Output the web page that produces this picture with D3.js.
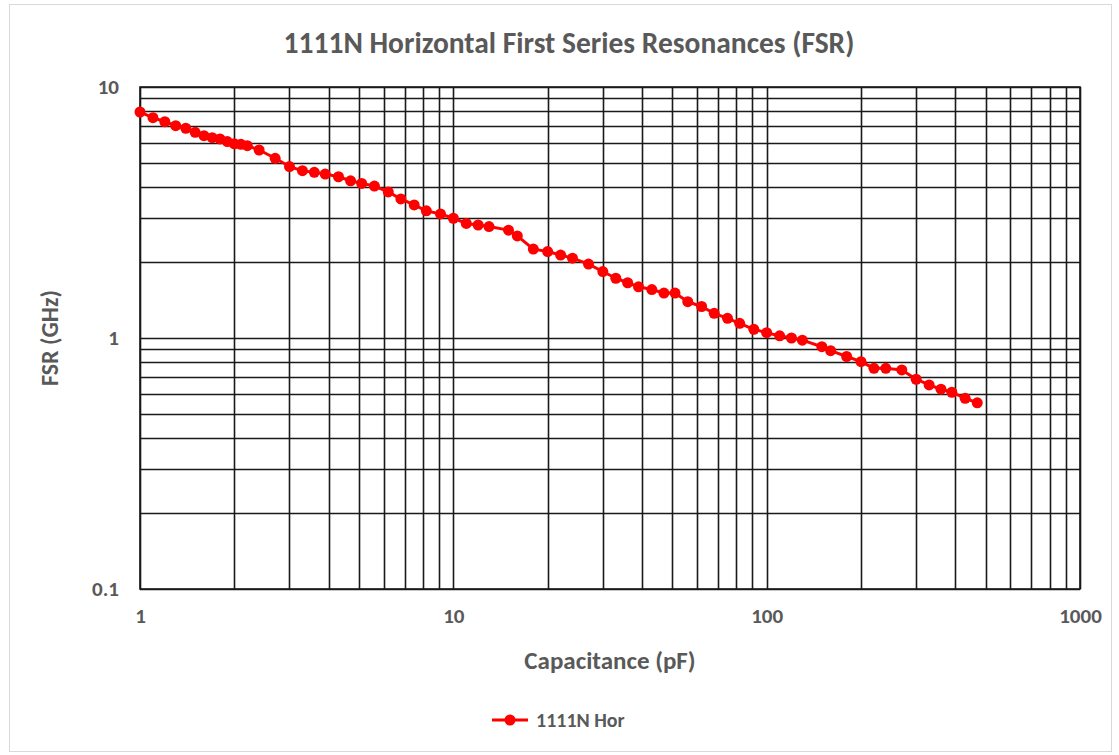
<!DOCTYPE html>
<html>
<head>
<meta charset="utf-8">
<script src="https://cdn.jsdelivr.net/npm/d3@7"></script>
<style>
  html, body { margin: 0; padding: 0; background: #fff; }
  svg { display: block; }
  text { font-family: Carlito, Calibri, "Liberation Sans Narrow", "Open Sans", sans-serif; }
</style>
</head>
<body>
<svg id="chart" width="1119" height="755"></svg>
<script>
// ---- data ----
const title = "1111N Horizontal First Series Resonances (FSR)";
const xTitle = "Capacitance (pF)";
const yTitle = "FSR (GHz)";
const seriesName = "1111N Hor";
const capacitance = [1, 1.1, 1.2, 1.3, 1.4, 1.5, 1.6, 1.7, 1.8, 1.9, 2.0, 2.1, 2.2, 2.4, 2.7, 3.0, 3.3, 3.6, 3.9, 4.3, 4.7, 5.1, 5.6, 6.2, 6.8, 7.5, 8.2, 9.1, 10, 11, 12, 13, 15, 16, 18, 20, 22, 24, 27, 30, 33, 36, 39, 43, 47, 51, 56, 62, 68, 75, 82, 91, 100, 110, 120, 130, 150, 160, 180, 200, 220, 240, 270, 300, 330, 360, 390, 430, 470];
const fsr = [7.95, 7.55, 7.27, 7.01, 6.85, 6.60, 6.40, 6.28, 6.21, 6.06, 5.94, 5.91, 5.84, 5.61, 5.20, 4.82, 4.64, 4.57, 4.50, 4.39, 4.23, 4.13, 4.03, 3.82, 3.58, 3.39, 3.21, 3.12, 3.00, 2.86, 2.82, 2.78, 2.69, 2.55, 2.26, 2.21, 2.14, 2.08, 1.97, 1.84, 1.73, 1.66, 1.60, 1.56, 1.51, 1.51, 1.395, 1.335, 1.254, 1.198, 1.144, 1.083, 1.05, 1.02, 1.00, 0.98, 0.923, 0.89, 0.844, 0.805, 0.757, 0.757, 0.746, 0.685, 0.65, 0.625, 0.608, 0.575, 0.552];
const xTickLabels = ["1", "10", "100", "1000"];
const yTickLabels = ["0.1", "1", "10"];
const xDomain = [1, 1000];
const yDomain = [0.1, 10];

// ---- layout ----
const svg = d3.select("#chart");
const plot = { left: 140, right: 1080, top: 87, bottom: 589 };
const textColor = "#595959";
const fontStack = 'Carlito, Calibri, "Liberation Sans Narrow", "Open Sans", sans-serif';

svg.append("rect").attr("x", 9.5).attr("y", 4.5).attr("width", 1102).attr("height", 747)
  .attr("fill", "#fff").attr("stroke", "#d9d9d9").attr("stroke-width", 1);

const x = d3.scaleLog().domain(xDomain).range([plot.left, plot.right]);
const y = d3.scaleLog().domain(yDomain).range([plot.bottom, plot.top]);

// minor/major gridlines
const xGrid = x.ticks();
const yGrid = y.ticks();
const g = svg.append("g");
g.selectAll("line.xg").data(xGrid).join("line")
  .attr("x1", d => Math.round(x(d)) + 0.5).attr("x2", d => Math.round(x(d)) + 0.5)
  .attr("y1", plot.top).attr("y2", plot.bottom)
  .attr("stroke", "#1a1a1a").attr("stroke-width", 1.6);
g.selectAll("line.yg").data(yGrid).join("line")
  .attr("y1", d => Math.round(y(d)) + 0.5).attr("y2", d => Math.round(y(d)) + 0.5)
  .attr("x1", plot.left).attr("x2", plot.right)
  .attr("stroke", "#1a1a1a").attr("stroke-width", 1.6);
g.append("rect").attr("x", plot.left).attr("y", plot.top)
  .attr("width", plot.right - plot.left).attr("height", plot.bottom - plot.top)
  .attr("fill", "none").attr("stroke", "#1a1a1a").attr("stroke-width", 1.6);

// axes labels via d3 axes (no domain/tick lines)
const xAxis = d3.axisBottom(x).tickValues(xTickLabels.map(Number)).tickFormat((d, i) => xTickLabels[i]).tickSize(0).tickPadding(0);
const xa = svg.append("g").attr("transform", `translate(0,${plot.bottom + 19})`).call(xAxis);
xa.select(".domain").remove();
xa.selectAll("text").attr("font-size", 21).attr("font-weight", "bold").attr("fill", textColor)
  .attr("font-family", fontStack);

const yAxis = d3.axisLeft(y).tickValues(yTickLabels.map(Number)).tickFormat((d, i) => yTickLabels[i]).tickSize(0).tickPadding(0);
const ya = svg.append("g").attr("transform", `translate(${plot.left - 21},0)`).call(yAxis);
ya.select(".domain").remove();
ya.selectAll("text").attr("font-size", 21).attr("font-weight", "bold").attr("fill", textColor)
  .attr("font-family", fontStack);

// titles
svg.append("text").attr("x", 569).attr("y", 53).attr("text-anchor", "middle")
  .attr("font-size", 29.5).attr("font-weight", "bold").attr("fill", textColor).text(title);
svg.append("text").attr("x", 610).attr("y", 669).attr("text-anchor", "middle")
  .attr("font-size", 25).attr("font-weight", "bold").attr("fill", textColor).text(xTitle);
svg.append("text").attr("transform", `translate(58,338) rotate(-90)`).attr("text-anchor", "middle")
  .attr("font-size", 24).attr("font-weight", "bold").attr("fill", textColor).text(yTitle);

// series
const data = capacitance.map((c, i) => ({ c, f: fsr[i] }));
const red = "#ff0000";
svg.append("path").datum(data)
  .attr("fill", "none").attr("stroke", red).attr("stroke-width", 3).attr("stroke-linejoin", "round")
  .attr("d", d3.line().x(d => x(d.c)).y(d => y(d.f)));
svg.append("g").selectAll("circle").data(data).join("circle")
  .attr("cx", d => x(d.c)).attr("cy", d => y(d.f)).attr("r", 5.5).attr("fill", red);

// legend
const lg = svg.append("g").attr("transform", "translate(492,720)");
lg.append("line").attr("x1", 0).attr("x2", 36).attr("y1", 0).attr("y2", 0).attr("stroke", red).attr("stroke-width", 3);
lg.append("circle").attr("cx", 18).attr("cy", 0).attr("r", 5.5).attr("fill", red);
lg.append("text").attr("x", 44).attr("y", 7).attr("font-size", 20).attr("font-weight", "bold")
  .attr("fill", textColor).text(seriesName);
</script>
</body>
</html>
